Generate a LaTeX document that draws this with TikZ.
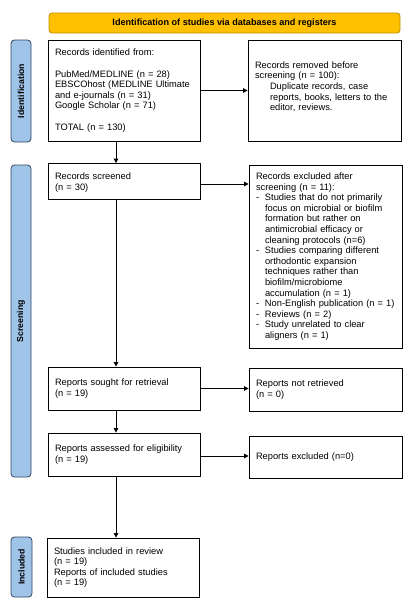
\documentclass[tikz,border=0pt]{standalone}
\usepackage{fontspec}
\setmainfont{Liberation Sans}
\usetikzlibrary{arrows.meta}
\definecolor{bannerfill}{RGB}{255,192,0}
\definecolor{bannerdraw}{RGB}{191,144,0}
\definecolor{sidefill}{RGB}{160,196,232}
\definecolor{sidedraw}{RGB}{50,70,100}
\begin{document}
\begin{tikzpicture}[x=1pt,y=-1pt,
  box/.style={draw, line width=0.8pt, align=left, inner xsep=7pt, inner ysep=0pt,
    font=\fontsize{9.3}{10.6}\selectfont, anchor=center},
  lbox/.style={box, minimum width=152pt, text width=138pt},
  rbox/.style={box, minimum width=153pt, text width=139pt},
  banner/.style={draw=bannerdraw, fill=bannerfill, line width=0.8pt, rounded corners=3pt,
    font=\fontsize{9.1}{10}\selectfont\bfseries, inner sep=0pt},
  side/.style={draw=sidedraw, fill=sidefill, line width=0.8pt, rounded corners=3.5pt,
    inner sep=0pt},
  arr/.style={line width=0.8pt, -{Triangle[length=4.5pt,width=4.5pt]}},
  lab/.style={rotate=90, font=\fontsize{8.7}{10}\selectfont\bfseries, inner sep=0pt}
]
\useasboundingbox (0,0) rectangle (412,605);

% banner
\node[banner, minimum width=351pt, minimum height=20pt] (ban) at (224.5,23)
  {Identification of studies via databases and registers};

% side bars
\node[side, minimum width=20pt, minimum height=102pt] (sid) at (21,91) {};
\node[lab] (sidl) at (sid.center) {Identification};
\node[side, minimum width=20pt, minimum height=312pt] (sscr) at (21,321) {};
\node[lab] (sscrl) at (sscr.center) {Screening};
\node[side, minimum width=21pt, minimum height=60pt] (sinc) at (21.5,567) {};
\node[lab] (sincl) at (sinc.center) {Included};

% boxes
\node[lbox, minimum height=101pt] (b1) at (124,90.5)
  {Records identified from:\\[10.6pt]
   PubMed/MEDLINE (n = 28)\\
   EBSCOhost (MEDLINE Ultimate\\
   and e-journals (n = 31)\\
   Google Scholar (n = 71)\\[10.6pt]
   TOTAL (n = 130)};
\node[rbox, minimum height=101pt] (b2) at (324.5,90.5)
  {Records removed before\\
   screening (n = 100):\\
   \hspace*{15pt}Duplicate records, case\\
   \hspace*{15pt}reports, books, letters to the\\
   \hspace*{15pt}editor, reviews.\\[-2pt]\mbox{}};

\node[lbox, minimum height=36pt] (b3) at (124,181.5)
  {\mbox{}\\[-2pt]Records screened\\(n = 30)};
\node[rbox, minimum height=183pt] (b4) at (325.5,256.5)
  {Records excluded after\\
   screening (n = 11):\\
   \makebox[9pt][l]{-}Studies that do not primarily\\
   \hspace*{9pt}focus on microbial or biofilm\\
   \hspace*{9pt}formation but rather on\\
   \hspace*{9pt}antimicrobial efficacy or\\
   \hspace*{9pt}cleaning protocols (n=6)\\
   \makebox[9pt][l]{-}Studies comparing different\\
   \hspace*{9pt}orthodontic expansion\\
   \hspace*{9pt}techniques rather than\\
   \hspace*{9pt}biofilm/microbiome\\
   \hspace*{9pt}accumulation (n = 1)\\
   \makebox[139pt][l]{\makebox[9pt][l]{-}Non-English publication (n = 1)}\\
   \makebox[9pt][l]{-}Reviews (n = 2)\\
   \makebox[9pt][l]{-}Study unrelated to clear\\
   \hspace*{9pt}aligners (n = 1)};

\node[lbox, minimum height=43pt] (b5) at (124,388.5)
  {Reports sought for retrieval\\(n = 19)};
\node[rbox, minimum height=43pt] (b6) at (325.5,389.5)
  {Reports not retrieved\\(n = 0)};

\node[lbox, minimum height=43pt] (b7) at (124,454.5)
  {Reports assessed for eligibility\\(n = 19)};
\node[rbox, minimum height=42pt] (b8) at (325.5,457)
  {Reports excluded (n=0)};

\node[lbox, minimum height=59pt] (b9) at (123,567.5)
  {Studies included in review\\(n = 19)\\Reports of included studies\\(n = 19)};

% connectors
\coordinate (vx) at (116,0);
\coordinate (a3) at ([yshift=-2.5pt]b3.east);
\coordinate (a7) at ([yshift=-1.5pt]b7.east);
\draw[arr] (b1.south -| vx) -- (b3.north -| vx);
\draw[arr] (b3.south -| vx) -- (b5.north -| vx);
\draw[arr] (b5.south -| vx) -- (b7.north -| vx);
\draw[arr] (b7.south -| vx) -- (b9.north -| vx);

\draw[arr] (b1.east) -- (b2.west |- b1.east);
\draw[arr] (a3) -- (b4.west |- a3);
\draw[arr] (b5.east) -- (b6.west |- b5.east);
\draw[arr] (a7) -- (b8.west |- a7);
\end{tikzpicture}
\end{document}
